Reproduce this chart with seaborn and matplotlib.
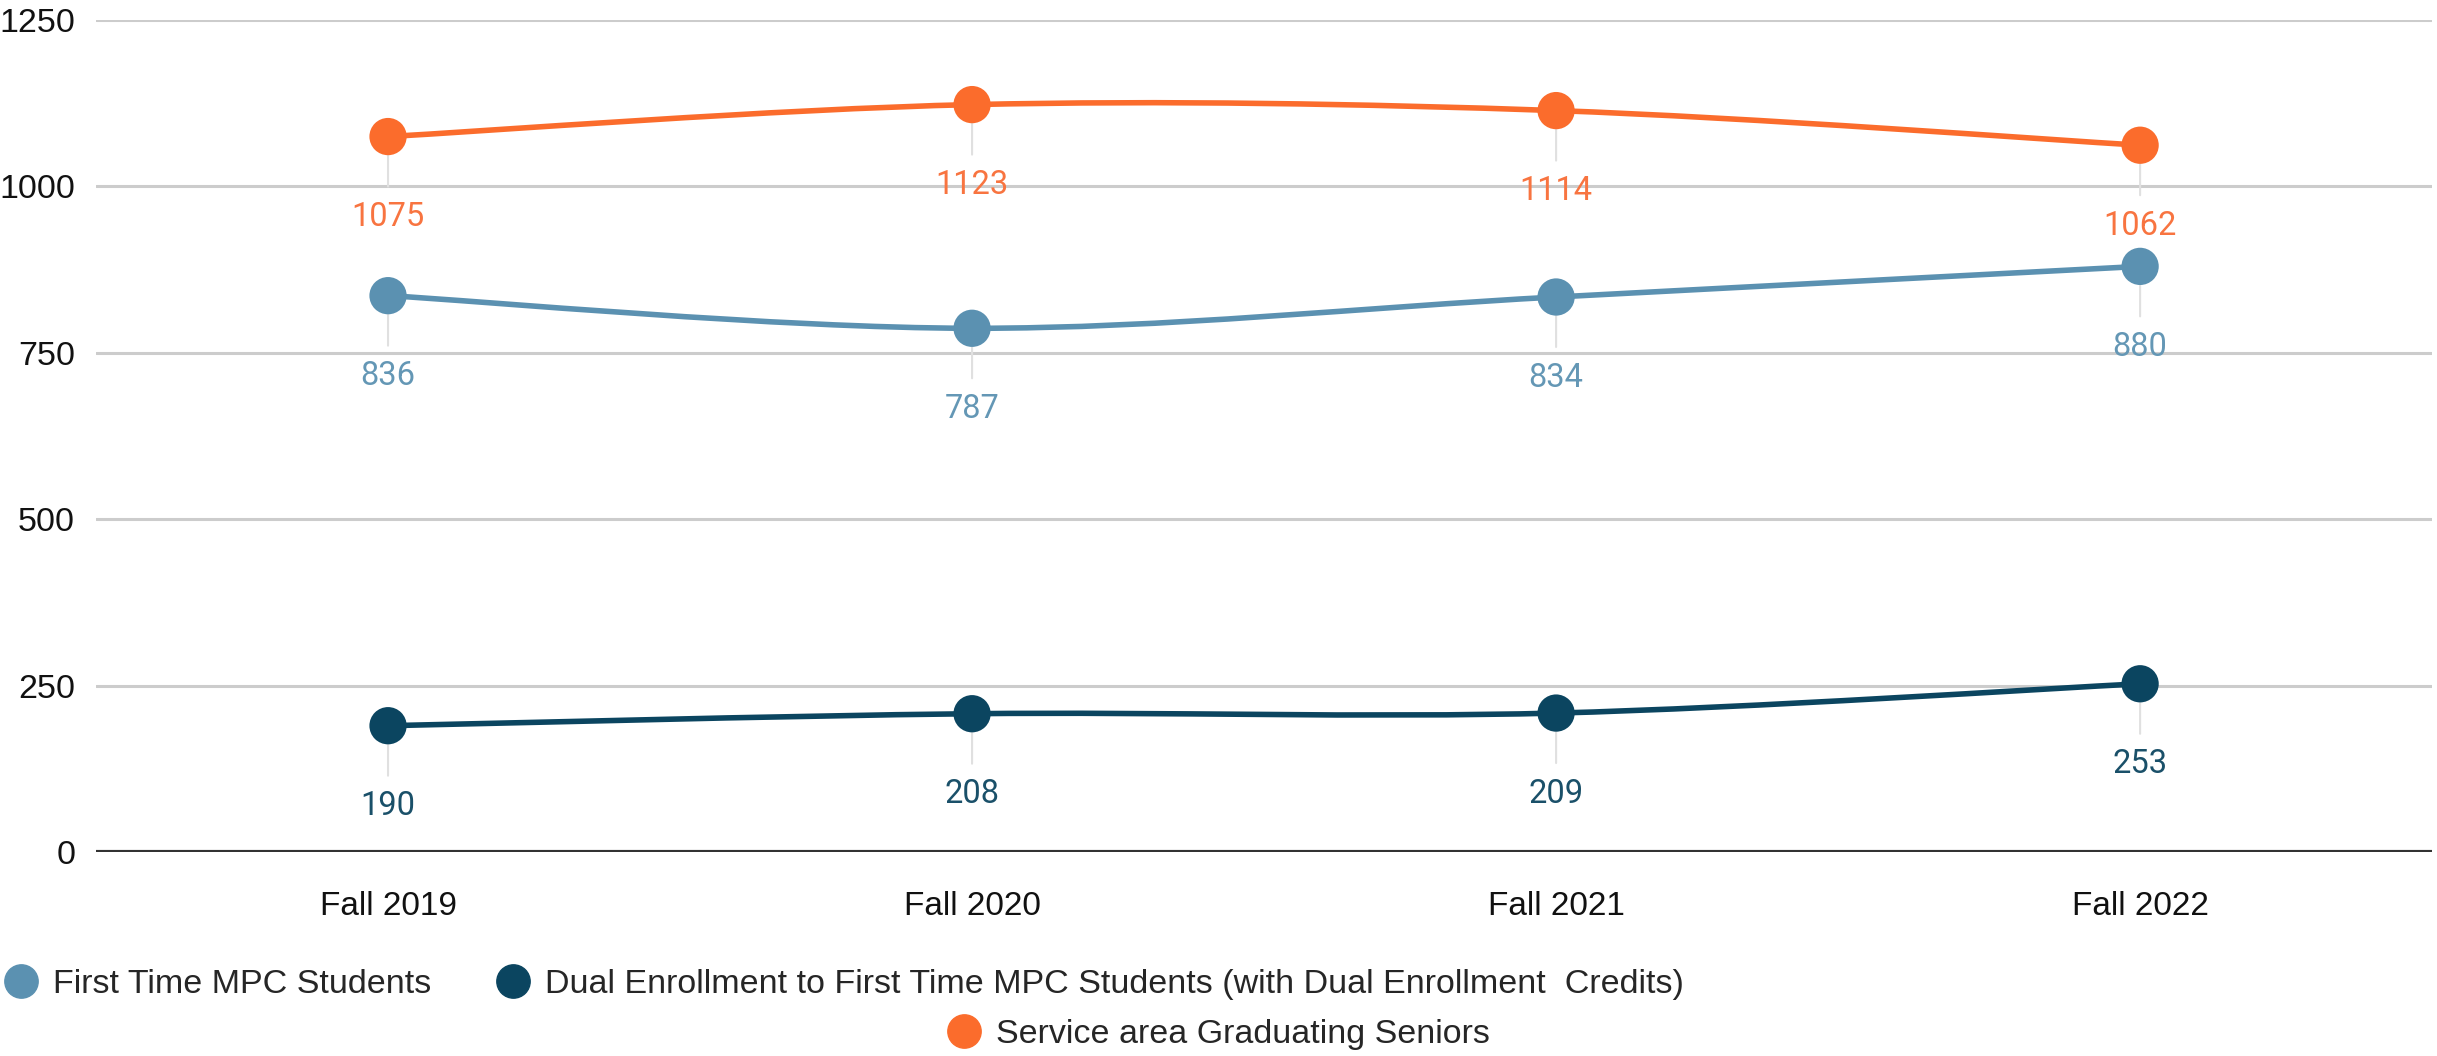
import numpy as np
import pandas as pd
import seaborn as sns
import matplotlib.pyplot as plt
from matplotlib.path import Path
from matplotlib.patches import PathPatch
from matplotlib.lines import Line2D

# datos
terms = ["Fall 2019", "Fall 2020", "Fall 2021", "Fall 2022"]
first_time = [836, 787, 834, 880]
dual_enroll = [190, 208, 209, 253]
grad_seniors = [1075, 1123, 1114, 1062]
series_names = [
    "First Time MPC Students",
    "Dual Enrollment to First Time MPC Students (with Dual Enrollment  Credits)",
    "Service area Graduating Seniors",
]
y_ticks = [0, 250, 500, 750, 1000, 1250]

colors = ["#5b91b1", "#0b4560", "#fb6c2c"]
label_colors = ["#6497b5", "#1a5069", "#f87440"]

df = pd.DataFrame({"term": terms * 3,
                   "value": first_time + dual_enroll + grad_seniors,
                   "series": [s for s in series_names for _ in terms]})

sns.set_style("white")
plt.rcParams["font.family"] = ["Liberation Sans", "DejaVu Sans"]

fig = plt.figure(figsize=(24.37, 10.56), dpi=100)
ax = fig.add_axes([0.0394, 0.193, 0.9586, 0.788])


def smooth_path(xs, ys):
    # curva suave tipo Catmull-Rom que pasa por los puntos
    pts = np.column_stack([xs, ys]).astype(float)
    verts = [pts[0]]
    codes = [Path.MOVETO]
    n = len(pts)
    for i in range(n - 1):
        p0 = pts[i - 1] if i > 0 else pts[i]
        p1 = pts[i]
        p2 = pts[i + 1]
        p3 = pts[i + 2] if i + 2 < n else pts[i + 1]
        verts += [p1 + (p2 - p0) / 6, p2 - (p3 - p1) / 6, p2]
        codes += [Path.CURVE4] * 3
    return Path(verts, codes)


# grid y linea base
for t in y_ticks[1:]:
    ax.axhline(t, color="#cccccc", lw=2.2, zorder=0)
ax.axhline(0, color="#333333", lw=3.0, zorder=1)

sns.scatterplot(data=df, x="term", y="value", hue="series", hue_order=series_names,
                palette=colors, s=720, linewidth=0, legend=False, zorder=4, ax=ax)

for name, col, lcol in zip(series_names, colors, label_colors):
    sub = df[df["series"] == name]
    xs = np.arange(len(sub))
    ax.add_patch(PathPatch(smooth_path(xs, sub["value"].values), fill=False,
                           edgecolor=col, lw=4.0, zorder=3, capstyle="round"))
    for x, v in zip(xs, sub["value"].values):
        ax.annotate("", xy=(x, v), xytext=(0, -36), textcoords="offset points",
                    arrowprops=dict(arrowstyle="-", color="#e0e0e0", lw=1.5,
                                    shrinkA=0, shrinkB=13), zorder=2)
        ax.annotate(str(v), xy=(x, v), xytext=(0, -58), textcoords="offset points",
                    ha="center", va="center", color=lcol, fontsize=23.5,
                    family=["Roboto", "DejaVu Sans"], zorder=5)

ax.set_xlim(-0.5, len(terms) - 0.5)
ax.set_ylim(0, 1250)
ax.set_yticks(y_ticks)
ax.set_xticks(range(len(terms)))
ax.set_xticklabels(terms)
ax.set_xlabel("")
ax.set_ylabel("")
ax.tick_params(axis="y", length=0, pad=15, labelsize=24.5, labelcolor="#111111")
ax.tick_params(axis="x", length=0, pad=28, labelsize=24, labelcolor="#111111")
sns.despine(ax=ax, left=True, bottom=True, top=True, right=True)

handles = [Line2D([], [], marker="o", ls="", markersize=24, color=c) for c in colors]
fig.legend(handles[:2], series_names[:2], loc="center left", bbox_to_anchor=(-0.004, 0.068),
           ncol=2, frameon=False, fontsize=24.5, handletextpad=0.45, columnspacing=1.9,
           handlelength=1.0, borderaxespad=0)
fig.legend(handles[2:], series_names[2:], loc="center", bbox_to_anchor=(0.5, 0.02),
           frameon=False, fontsize=24.5, handletextpad=0.45, handlelength=1.0, borderaxespad=0)

fig.savefig("out.png", dpi=100)
plt.close(fig)
